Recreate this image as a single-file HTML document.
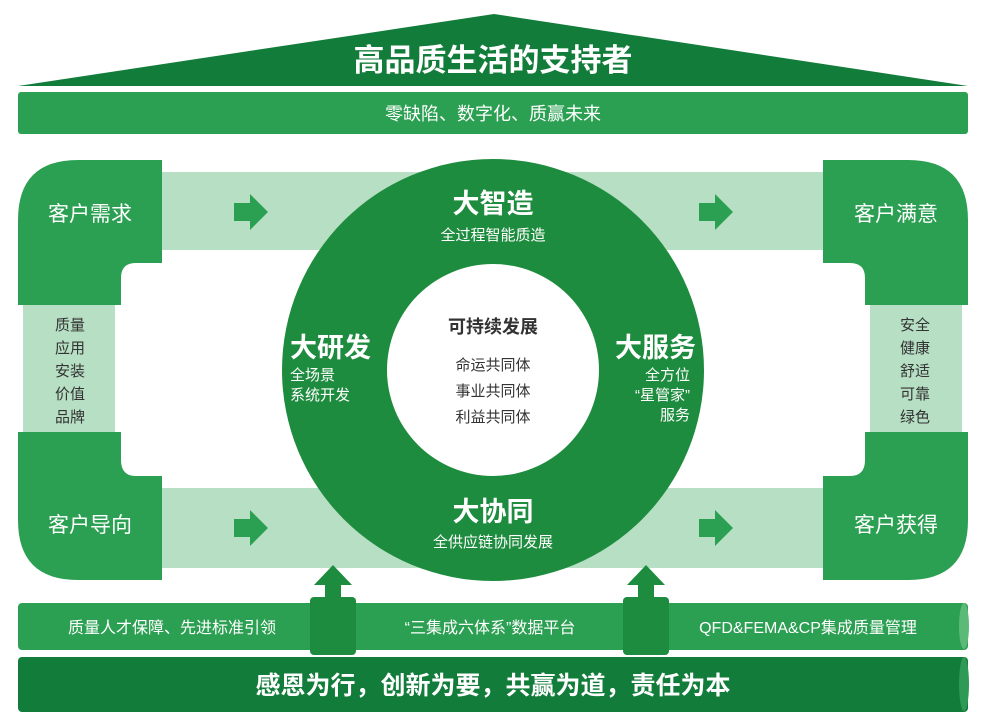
<!DOCTYPE html>
<html><head><meta charset="utf-8"><style>
html,body{margin:0;padding:0;background:#fff;width:987px;height:724px;overflow:hidden}
svg text{font-family:"Liberation Sans","Noto Sans CJK SC",sans-serif}
</style></head><body>
<svg width="987" height="724" viewBox="0 0 987 724" xmlns="http://www.w3.org/2000/svg">
<!-- roof -->
<polygon points="18,86 494,14 968,86" fill="#127c3a"/>
<text x="493" y="71" font-size="31" font-weight="bold" fill="#fff" text-anchor="middle">高品质生活的支持者</text>
<rect x="18" y="92" width="950" height="42" rx="3" fill="#2ca052"/>
<text x="493" y="120" font-size="18" fill="#fff" text-anchor="middle">零缺陷、数字化、质赢未来</text>
<!-- light bands -->
<rect x="160" y="172" width="666" height="78" fill="#b6dfc4"/>
<rect x="160" y="488" width="666" height="80" fill="#b6dfc4"/>
<rect x="23" y="300" width="92" height="136" fill="#b6dfc4"/>
<rect x="870" y="300" width="92" height="136" fill="#b6dfc4"/>
<!-- left blocks -->
<path d="M18,305 L18,220 Q18,160 78,160 L162,160 L162,263 L136,263 Q121,263 121,278 L121,305 Z" fill="#2ca052"/>
<path d="M18,432 L121,432 L121,460 Q121,476 136,476 L162,476 L162,580 L78,580 Q18,580 18,520 Z" fill="#2ca052"/>
<!-- right blocks -->
<path d="M968,305 L968,220 Q968,160 908,160 L823,160 L823,263 L850,263 Q865,263 865,278 L865,305 Z" fill="#2ca052"/>
<path d="M968,432 L865,432 L865,460 Q865,476 850,476 L823,476 L823,580 L908,580 Q968,580 968,520 Z" fill="#2ca052"/>
<!-- circle -->
<circle cx="493" cy="370" r="211" fill="#1e8c3e"/>
<circle cx="493" cy="370" r="106" fill="#fff"/>
<!-- arrows -->
<g fill="#2ca052">
<polygon points="234,203 250,203 250,194 268,212 250,230 250,221 234,221"/>
<polygon points="699,203 715,203 715,194 733,212 715,230 715,221 699,221"/>
<polygon points="234,519 250,519 250,510 268,528 250,546 250,537 234,537"/>
<polygon points="699,519 715,519 715,510 733,528 715,546 715,537 699,537"/>
</g>
<!-- block labels -->
<g font-size="21" fill="#fff" text-anchor="middle">
<text x="90" y="221">客户需求</text>
<text x="896" y="221">客户满意</text>
<text x="90" y="532">客户导向</text>
<text x="896" y="532">客户获得</text>
</g>
<g font-size="15" fill="#333" text-anchor="middle">
<text x="70" y="330">质量</text><text x="70" y="353">应用</text><text x="70" y="376">安装</text><text x="70" y="399">价值</text><text x="70" y="422">品牌</text>
<text x="915" y="330">安全</text><text x="915" y="353">健康</text><text x="915" y="376">舒适</text><text x="915" y="399">可靠</text><text x="915" y="422">绿色</text>
</g>
<!-- circle texts -->
<g fill="#fff">
<text x="493" y="213" font-size="27" font-weight="bold" text-anchor="middle">大智造</text>
<text x="493" y="240" font-size="15" text-anchor="middle">全过程智能质造</text>
<text x="493" y="521" font-size="27" font-weight="bold" text-anchor="middle">大协同</text>
<text x="493" y="547" font-size="15" text-anchor="middle">全供应链协同发展</text>
<text x="290" y="357" font-size="27" font-weight="bold">大研发</text>
<text x="290" y="380" font-size="15">全场景</text>
<text x="290" y="400" font-size="15">系统开发</text>
<text x="696" y="357" font-size="27" font-weight="bold" text-anchor="end">大服务</text>
<text x="690" y="380" font-size="15" text-anchor="end">全方位</text>
<text x="690" y="400" font-size="15" text-anchor="end">“星管家”</text>
<text x="690" y="420" font-size="15" text-anchor="end">服务</text>
</g>
<g fill="#333" text-anchor="middle">
<text x="493" y="333" font-size="18" font-weight="bold">可持续发展</text>
<text x="493" y="370" font-size="15">命运共同体</text>
<text x="493" y="396" font-size="15">事业共同体</text>
<text x="493" y="422" font-size="15">利益共同体</text>
</g>
<!-- up arrows -->
<g fill="#1e8c3e">
<polygon points="333,565 352,585 341,585 341,600 325,600 325,585 314,585"/>
<polygon points="646,565 665,585 654,585 654,600 638,600 638,585 627,585"/>
</g>
<!-- pipe -->
<rect x="18" y="603" width="950" height="47" rx="4" fill="#2ca052"/>
<ellipse cx="964" cy="626" rx="5" ry="23" fill="#5cba78"/>
<rect x="310" y="597" width="46" height="58" rx="4" fill="#1e8c3e"/>
<rect x="623" y="597" width="46" height="58" rx="4" fill="#1e8c3e"/>
<g font-size="16" fill="#fff" text-anchor="middle">
<text x="172" y="633">质量人才保障、先进标准引领</text>
<text x="490" y="633">“三集成六体系”数据平台</text>
<text x="808" y="633">QFD&amp;FEMA&amp;CP集成质量管理</text>
</g>
<rect x="18" y="657" width="950" height="55" rx="4" fill="#127c3a"/>
<ellipse cx="964" cy="684" rx="5" ry="27" fill="#2f9a55"/>
<text x="493" y="694" font-size="25" font-weight="bold" fill="#fff" text-anchor="middle">感恩为行，创新为要，共赢为道，责任为本</text>
</svg>
</body></html>
